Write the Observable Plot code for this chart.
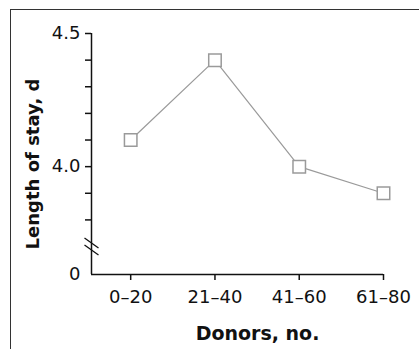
<!DOCTYPE html>
<html>
<head>
<meta charset="utf-8">
<script src="https://cdn.jsdelivr.net/npm/d3@7"></script>
<script src="https://cdn.jsdelivr.net/npm/@observablehq/plot@0.6"></script>
<style>
  html, body { margin: 0; padding: 0; background: #fff; }
  #wrap { position: relative; width: 419px; height: 349px; overflow: hidden; color: #111; }
  #frame { position: absolute; left: 10px; top: 9px; width: 430px; height: 360px;
           border-left: 1.5px solid #333; border-top: 1.5px solid #333; box-sizing: border-box; }
  #chart { position: absolute; left: 0; top: 0; }
</style>
</head>
<body>
<div id="wrap"><div id="frame"></div><div id="chart"></div></div>
<script>
const categories = ["0–20", "21–40", "41–60", "61–80"];
const stayDays = [4.1, 4.4, 4.0, 3.9];
const yTicks = [3.8, 3.9, 4.0, 4.1, 4.2, 4.3, 4.4, 4.5];
const yLabelled = [4.0, 4.5];
const yBase = 3.595;      // value drawn at the axis origin (labelled "0")
const yBreak = 3.7;       // where the axis break marks sit
const xTitle = "Donors, no.";
const yTitle = "Length of stay, d";

const data = categories.map((c, i) => ({i, c, v: stayDays[i]}));
const xMin = -0.465;

const breakSymbol = {
  draw(ctx) {
    ctx.moveTo(-7, -8.5); ctx.lineTo(7, 1.5);
    ctx.moveTo(-7, -1.5); ctx.lineTo(7, 8.5);
  }
};

const plot = Plot.plot({
  width: 419,
  height: 349,
  marginLeft: 91,
  marginRight: 36,
  marginTop: 33,
  marginBottom: 75,
  style: {fontFamily: "DejaVu Sans", fontSize: "18px", background: "transparent", overflow: "visible"},
  x: {type: "linear", domain: [xMin, categories.length - 1], label: null, axis: null},
  y: {type: "linear", domain: [yBase, 4.5], label: null, axis: null},
  marks: [
    Plot.ruleX([xMin], {stroke: "#111", strokeWidth: 1.5}),
    Plot.ruleY([yBase], {stroke: "#111", strokeWidth: 1.5}),
    Plot.axisY({ticks: yTicks, tickSize: 6, tickPadding: 5, tickFormat: d => yLabelled.includes(d) ? d.toFixed(1) : "", label: null, strokeWidth: 1.5}),
    Plot.axisY({ticks: [yBase], tickSize: 0, tickPadding: 11, tickFormat: () => "0", label: null}),
    Plot.axisX({ticks: d3.range(categories.length), tickSize: 6, tickPadding: 10, tickFormat: i => categories[i], label: null, strokeWidth: 1.5}),
    Plot.dot([yBreak], {x: () => xMin, y: d => d, symbol: breakSymbol, stroke: "#111", strokeWidth: 1.3, fill: "none"}),
    Plot.line(data, {x: "i", y: "v", stroke: "#9a9a9a", strokeWidth: 1.2}),
    Plot.dot(data, {x: "i", y: "v", symbol: "square", r: 7.05, fill: "white", stroke: "#9a9a9a", strokeWidth: 1.5}),
    Plot.text([xTitle], {frameAnchor: "bottom", textAnchor: "middle", text: d => d, dy: 65, dx: 20, fontWeight: "bold", fontSize: 19, fill: "#111"}),
    Plot.text([yTitle], {frameAnchor: "left", textAnchor: "middle", text: d => d, rotate: -90, dx: -58, dy: 10, fontWeight: "bold", fontSize: 18, fill: "#111"})
  ]
});
document.getElementById("chart").appendChild(plot);
</script>
</body>
</html>
